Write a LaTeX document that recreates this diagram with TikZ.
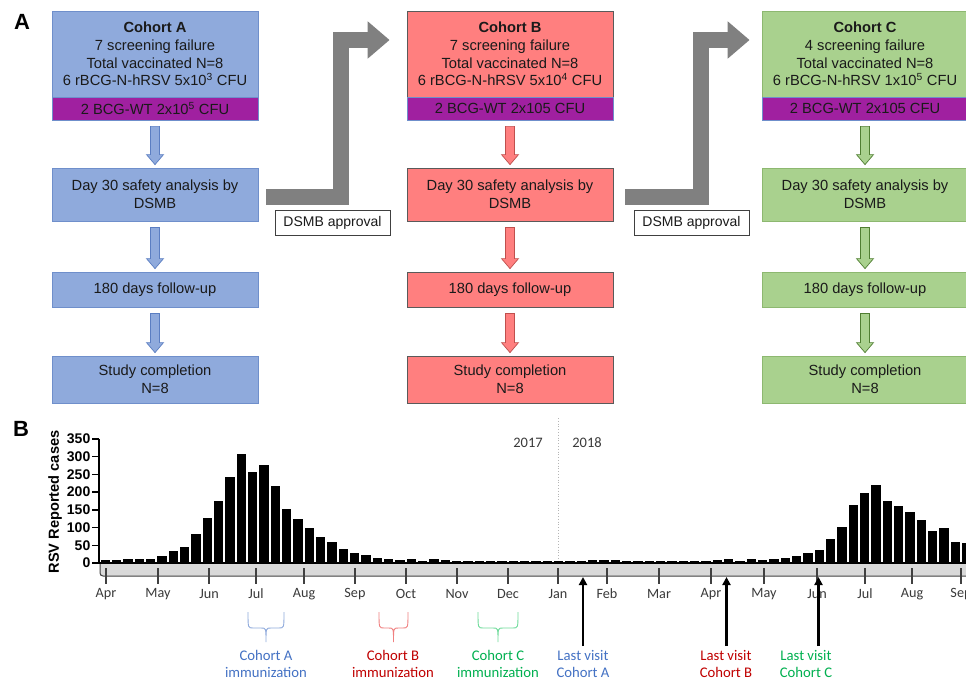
\documentclass[tikz,border=0pt]{standalone}
\usepackage{fontspec}
\setmainfont{Liberation Sans}
\newfontfamily\calib{Carlito}
\usetikzlibrary{arrows.meta,calc}
\definecolor{boxA}{HTML}{8FAADC}
\definecolor{bordA}{HTML}{6F8FCB}
\definecolor{boxB}{HTML}{FF7F7F}
\definecolor{bordB}{HTML}{5A5A5A}
\definecolor{boxC}{HTML}{A9D18E}
\definecolor{bordC}{HTML}{8DB870}
\definecolor{arrBd}{HTML}{C0504D}
\definecolor{arrCd}{HTML}{507E32}
\definecolor{arrAd}{HTML}{5B7EC2}
\definecolor{purp}{HTML}{A020A0}
\definecolor{txt}{HTML}{1A1A1A}
\definecolor{grayarr}{HTML}{808080}
\definecolor{band}{HTML}{D9D9D9}
\definecolor{dark}{HTML}{404040}
\definecolor{monthc}{HTML}{3A3A3A}
\definecolor{cA}{HTML}{4472C4}
\definecolor{cB}{HTML}{C00000}
\definecolor{cC}{HTML}{00B050}
\definecolor{brA}{HTML}{8FAADC}
\definecolor{brB}{HTML}{F08080}
\definecolor{brC}{HTML}{6FDB9B}
\newcommand\blkarrow[3]{%
 \path[#1] let \p1=(#2.south), \p2=(#3.north) in
 (\x1-4.5pt,\y1-6pt) -- (\x1-4.5pt,\y2+13pt) -- (\x1-8.5pt,\y2+13pt) -- (\x1,\y2+3pt)
 -- (\x1+8.5pt,\y2+13pt) -- (\x1+4.5pt,\y2+13pt) -- (\x1+4.5pt,\y1-6pt) -- cycle;}
\newcommand\bracepath[3]{% color, center x, half width
 \draw[#1, line width=0.9pt] (#2-#3,612) .. controls (#2-#3,628) .. (#2-#3+5,628) -- (#2-5,628)
   .. controls (#2,628) .. (#2,642) .. controls (#2,628) .. (#2+5,628) -- (#2+#3-5,628)
   .. controls (#2+#3,628) .. (#2+#3,612);}
\begin{document}
\begin{tikzpicture}[x=1pt,y=-1pt,
  box/.style={draw, line width=0.8pt, inner sep=0pt, minimum width=206pt, align=center,
    text=txt, font=\fontsize{14.7}{17.7}\selectfont},
  arrA/.style={fill=boxA, draw=arrAd, line width=0.7pt},
  arrB/.style={fill=boxB, draw=arrBd, line width=0.7pt},
  arrC/.style={fill=boxC, draw=arrCd, line width=0.7pt},
  elbow/.style={draw=grayarr, line width=16pt, line join=miter,
    -{Triangle[width=36pt,length=22pt]}},
  approval/.style={draw=dark, fill=white, line width=0.8pt, minimum width=115pt,
    minimum height=25pt, inner sep=0pt, font=\fontsize{14}{16}\selectfont, text=txt},
  monthlbl/.style={font=\calib\fontsize{14.2}{16}\selectfont, text=monthc},
  cohlbl/.style={font=\calib\fontsize{14.7}{17.5}\selectfont, align=center},
  uparr/.style={line width=2.4pt, -{Triangle[width=8pt,length=8pt]}},
  panel/.style={font=\fontsize{22}{22}\bfseries}
]
\clip (0,0) rectangle (966,682);
\fill[white] (0,0) rectangle (966,682);

% panel labels
\node[panel] (labA) at (22,22) {A};
\node[panel] (labB) at (21,429) {B};

% ---------- Column A
\node[box, fill=boxA, draw=bordA, minimum height=86pt] (topA) at (155,54)
  {{\bfseries Cohort A}\\7 screening failure\\Total vaccinated N=8\\6 rBCG-N-hRSV 5x10\textsuperscript{3} CFU};
\node[box, fill=purp, draw=bordA, minimum height=23pt] (purA) at (155,108.5) {2 BCG-WT 2x10\textsuperscript{5} CFU};
\node[box, fill=boxA, draw=bordA, minimum height=53pt] (dayA) at (155,194.5) {Day 30 safety analysis by\\DSMB};
\node[box, fill=boxA, draw=bordA, minimum height=35pt] (fupA) at (155,289.5) {180 days follow-up};
\node[box, fill=boxA, draw=bordA, minimum height=47pt] (endA) at (155,379.5) {Study completion\\N=8};
\blkarrow{arrA}{purA}{dayA}
\blkarrow{arrA}{dayA}{fupA}
\blkarrow{arrA}{fupA}{endA}

% ---------- Column B
\node[box, fill=boxB, draw=bordB, minimum height=86pt] (topB) at (510,54)
  {{\bfseries Cohort B}\\7 screening failure\\Total vaccinated N=8\\6 rBCG-N-hRSV 5x10\textsuperscript{4} CFU};
\node[box, fill=purp, draw=bordA, minimum height=23pt] (purB) at (510,108.5) {2 BCG-WT 2x105 CFU};
\node[box, fill=boxB, draw=bordB, minimum height=53pt] (dayB) at (510,194.5) {Day 30 safety analysis by\\DSMB};
\node[box, fill=boxB, draw=bordB, minimum height=35pt] (fupB) at (510,289.5) {180 days follow-up};
\node[box, fill=boxB, draw=bordB, minimum height=47pt] (endB) at (510,379.5) {Study completion\\N=8};
\blkarrow{arrB}{purB}{dayB}
\blkarrow{arrB}{dayB}{fupB}
\blkarrow{arrB}{fupB}{endB}

% ---------- Column C
\node[box, fill=boxC, draw=bordC, minimum height=86pt] (topC) at (865,54)
  {{\bfseries Cohort C}\\4 screening failure\\Total vaccinated N=8\\6 rBCG-N-hRSV 1x10\textsuperscript{5} CFU};
\node[box, fill=purp, draw=bordA, minimum height=23pt] (purC) at (865,108.5) {2 BCG-WT 2x105 CFU};
\node[box, fill=boxC, draw=bordC, minimum height=53pt] (dayC) at (865,194.5) {Day 30 safety analysis by\\DSMB};
\node[box, fill=boxC, draw=bordC, minimum height=35pt] (fupC) at (865,289.5) {180 days follow-up};
\node[box, fill=boxC, draw=bordC, minimum height=47pt] (endC) at (865,379.5) {Study completion\\N=8};
\blkarrow{arrC}{purC}{dayC}
\blkarrow{arrC}{dayC}{fupC}
\blkarrow{arrC}{fupC}{endC}

% ---------- elbow arrows and approvals
\draw[elbow] ([xshift=8pt,yshift=-2pt]dayA.east) -- ++(74.5,0) |- ([xshift=-17pt,yshift=14pt]topB.west);
\draw[elbow] ([xshift=12pt,yshift=-2pt]dayB.east) -- ++(75.5,0) |- ([xshift=-12pt,yshift=14pt]topC.west);
\node[approval] (appAB) at (332.5,222.5) {DSMB approval};
\node[approval] (appBC) at (691.5,222.5) {DSMB approval};

% ---------- Chart
\draw[band!60!gray, dotted, line width=0.8pt] (558,418) -- (558,563);
\node[font=\calib\fontsize{14.5}{16}\selectfont, text=monthc] (y17) at (528,443) {2017};
\node[font=\calib\fontsize{14.5}{16}\selectfont, text=monthc] (y18) at (587,443) {2018};

\fill[band] (100,563) rectangle (970,576);
\draw[dark, line width=1pt, rounded corners=3pt] (100,563) -- (100,576) -- (970,576);

\foreach \v [count=\i] in {8,9,11,12,12,19,34,45,83,128,
  175,243,308,256,277,217,152,123,100,72,
  58,40,29,22,15,12,9,11,6,10,
  8,5,5,5,5,5,5,5,5,5,
  5,6,6,8,8,9,6,5,5,6,
  5,5,5,6,8,10,6,10,8,11,
  13,21,29,36,69,102,165,197,220,175,
  161,144,120,89,98,59,56}{
  \pgfmathsetmacro\bx{100.6+(\i-1)*11.335}
  \pgfmathsetmacro\bh{\v*0.3543}
  \fill[black] (\bx,563) rectangle ++(9.3,-\bh);
}
\draw[black, line width=1.6pt] (99,563) -- (970,563);
\draw[black, line width=1.6pt] (99,438.5) -- (99,563.8);
\foreach \v [count=\k from 0] in {0,50,100,150,200,250,300,350}{
  \draw[black, line width=1.4pt] (92,{563-\k*17.71}) -- (99,{563-\k*17.71});
  \node[anchor=east, inner sep=0pt, font=\fontsize{14}{14}\bfseries] (yl\v) at (90.5,{563-\k*17.71}) {\v};
}
\node[rotate=90, font=\fontsize{14.6}{15}\bfseries] (ytitle) at (55,502) {RSV Reported cases};

\foreach \x/\m [count=\j] in {106/Apr,158/May,209/Jun,256/Jul,304/Aug,355/Sep,406/Oct,457/Nov,508/Dec,
  558/Jan,607/Feb,659/Mar,711/Apr,764/May,817/Jun,865/Jul,912/Aug,961/Sep}{
  \draw[dark, line width=1.3pt] (\x,568) -- (\x,584);
  \node[monthlbl] (mon\j) at (\x,594) {\m};
}

% immunization braces and labels
\bracepath{brA}{266}{18}
\bracepath{brB}{393.5}{14.5}
\bracepath{brC}{498}{20}
\node[cohlbl, text=cA] (immA) at (266,664) {Cohort A\\immunization};
\node[cohlbl, text=cB] (immB) at (393,664) {Cohort B\\immunization};
\node[cohlbl, text=cC] (immC) at (498,664) {Cohort C\\immunization};

% last visits
\node[cohlbl, text=cA] (lvA) at (583,664) {Last visit\\Cohort A};
\node[cohlbl, text=cB] (lvB) at (726,664) {Last visit\\Cohort B};
\node[cohlbl, text=cC] (lvC) at (806,664) {Last visit\\Cohort C};
\coordinate (tA) at (583,577);
\coordinate (tB) at (726.5,577);
\coordinate (tC) at (818.5,577);
\draw[uparr] (583,646) -- (tA);
\draw[uparr] (726.5,646) -- (tB);
\draw[uparr] (818.5,646) -- (tC);
\end{tikzpicture}
\end{document}
